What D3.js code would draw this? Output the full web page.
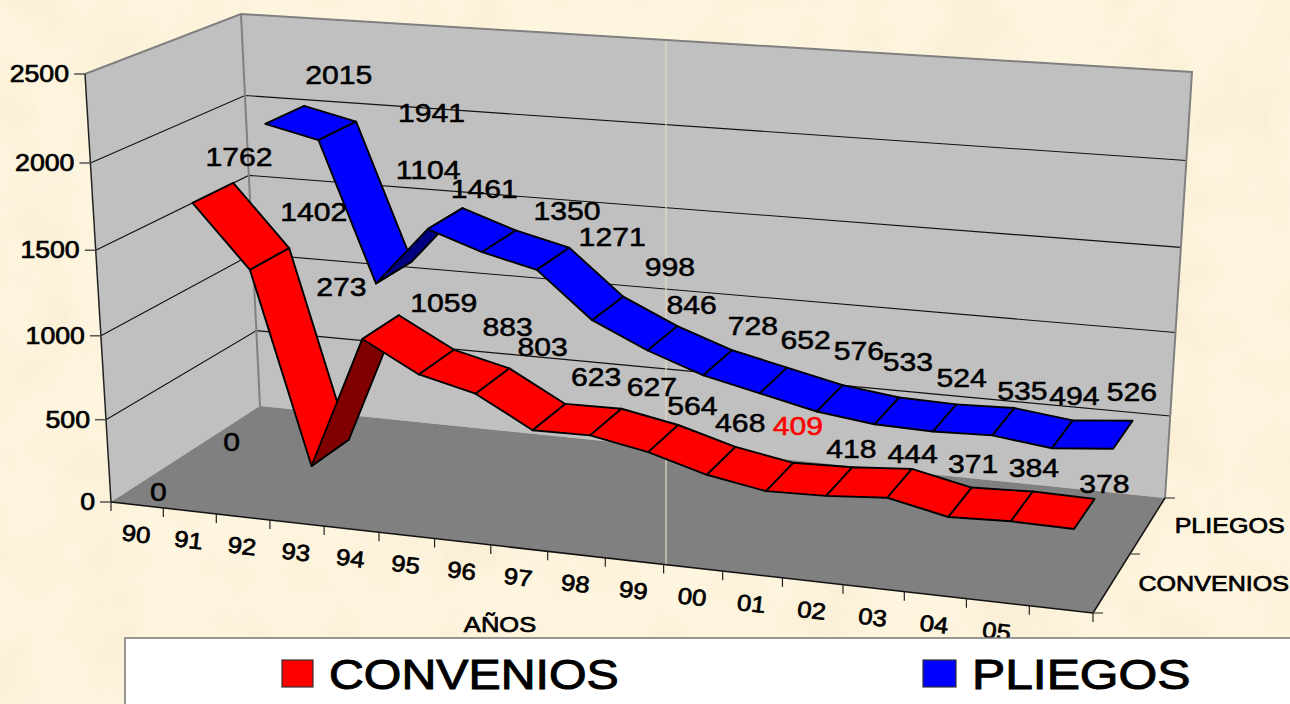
<!DOCTYPE html>
<html><head><meta charset="utf-8">
<script src="https://cdn.jsdelivr.net/npm/d3@7"></script>
<style>html,body{margin:0;padding:0;overflow:hidden;background:#fdf3dc}svg{display:block}text{font-family:"Liberation Sans",Arial,sans-serif;fill:#000}</style>
</head><body><svg id="c" width="1290" height="704"></svg>
<script>
const years=["90","91","92","93","94","95","96","97","98","99","00","01","02","03","04","05",""];
const seriesNames=["CONVENIOS","PLIEGOS"];
const convenios=[0,1762,1402,273,1059,883,803,623,627,564,468,409,418,444,371,384,378];
const pliegos=[0,2015,1941,1104,1461,1350,1271,998,846,728,652,576,533,524,535,494,526];
const valueTicks=[0,500,1000,1500,2000,2500];
const highlightedValue=409;
const colors={CONVENIOS:{top:"#ff0000",under:"#800000"},PLIEGOS:{top:"#0000ff",under:"#000080"}};
// hand placed data-label nudges from each ribbon point, as in the source chart
const convLabelDx=[-17,26,44,11,63,71,50,47,46,29,19,18,12,13,13,12,20];
const convLabelDy=[12,-36,-47,-166,-24,-35,-34,-40,-35,-33,-38,-51,-33,-29,-38,-38,-30];
const pliegLabelDx=[-17,54,94,34,39,68,59,62,29,35,32,29,21,17,19,12,9];
const pliegLabelDy=[10,-40,-18,-103,-30,-30,-22,-41,-33,-37,-40,-47,-49,-40,-31,-38,-43];

const svg=d3.select("#c");
const warp=k=>t=>t/(k+(1-k)*t);
const wx=warp(1.11),wy=warp(1.05),wz=warp(0.95);
const xS=d3.scaleLinear().domain([0,years.length]).range([0,1]);
const yS=d3.scaleLinear().domain([0,2500]).range([0,1]);
const zS=d3.scaleBand().domain(seriesNames).range([0,1]).paddingInner(.46).paddingOuter(.23);
// box frame corners
const K={A:[111,502],B:[1093,613],C:[260,406],D:[1165,498],E:[85,74],H:[1123,148],F:[241,14],G:[1192,72]};
const mix=(a,b,t)=>[a[0]+(b[0]-a[0])*t,a[1]+(b[1]-a[1])*t];
function P(xi,z,v){
  const x=wx(xS(xi)),zz=wz(z),y=wy(yS(v));
  return mix(mix(mix(K.A,K.B,x),mix(K.C,K.D,x),zz),mix(mix(K.E,K.H,x),mix(K.F,K.G,x),zz),y);
}
const n=years.length,line=d3.line();
const poly=(pts,fill,stroke,sw)=>svg.append("path").attr("d",line(pts)+"Z").attr("fill",fill).attr("stroke",stroke||"none").attr("stroke-width",sw||0).attr("stroke-linejoin","round");
const seg=(a,b,col,w)=>svg.append("line").attr("x1",a[0]).attr("y1",a[1]).attr("x2",b[0]).attr("y2",b[1]).attr("stroke",col).attr("stroke-width",w);
const H=1.16;
function label(p,s,size,opt={}){
  const t=`translate(${p[0]},${p[1]})`+(opt.rot?` rotate(${opt.rot})`:"")+` scale(${opt.h||H},1)`;
  return svg.append("text").attr("transform",t).attr("text-anchor",opt.anchor||"middle").attr("dy",".35em")
   .attr("font-size",size).style("fill",opt.fill||"#000").style("stroke",opt.fill||"#000").style("stroke-width",opt.sw==null?.55:opt.sw).text(s);
}
// background
const defs=svg.append("defs");
const f=defs.append("filter").attr("id","parch").attr("x",0).attr("y",0).attr("width","100%").attr("height","100%");
f.append("feTurbulence").attr("type","fractalNoise").attr("baseFrequency",".014").attr("numOctaves",4).attr("seed",7);
f.append("feColorMatrix").attr("values","0 0 0 0 .96  0 0 0 0 .86  0 0 0 0 .66  0 0 0 2.2 -0.85");
svg.append("rect").attr("width",1290).attr("height",704).attr("fill","#fef5df");
svg.append("rect").attr("width",1290).attr("height",704).attr("filter","url(#parch)");
// walls and floor
poly([P(0,0,0),P(0,1,0),P(0,1,2500),P(0,0,2500)],"#c0c0c0");
poly([P(0,1,0),P(n,1,0),P(n,1,2500),P(0,1,2500)],"#c0c0c0");
valueTicks.slice(1,-1).forEach(v=>{
  svg.append("path").attr("fill","none").attr("stroke","#111").attr("stroke-width",1.1).attr("d",line([P(0,0,v),P(0,1,v),P(n,1,v)]));
});
poly([P(0,0,0),P(0,1,0),P(n,1,0),P(n,0,0)],"#808080");
svg.append("path").attr("fill","none").attr("stroke","#808080").attr("stroke-width",2).attr("d",line([P(0,0,2500),P(0,1,2500),P(n,1,2500),P(n,1,0)]));
seg(P(0,1,0),P(0,1,2500),"#808080",2);
seg([666,41],[666,564],"#e2dac4",1.2);
// axes edges
seg(P(0,0,0),P(0,0,2500),"#222",1.5);
seg(P(0,0,0),P(n,0,0),"#111",1.5);
seg(P(n,0,0),P(n,1,0),"#111",1.5);
valueTicks.forEach(v=>{
  const p=P(0,0,v);seg([p[0]-11,p[1]],p,"#555",1.5);
  label([p[0]-16,p[1]],v,23,{anchor:"end",sw:.7});
});
d3.range(n+1).forEach(i=>{const p=P(i,0,0);seg(p,[p[0],p[1]+9],"#222",1.2);});
years.forEach((y,i)=>{ if(!y)return; const p=P(i+.5,0,0);label([p[0]-1,p[1]+29],y,23,{rot:6.5,h:1.12,sw:.7});});
[0,.5,1].forEach(z=>{const p=P(n,z,0);seg(p,[p[0]+10,p[1]],"#444",1.2);});
seriesNames.forEach((s,j)=>{const p=P(n,zS(s)+zS.bandwidth()/2,0);label([p[0]+(j?82:102),p[1]],s,22,{h:1.14,sw:.7});});
label([500,624],"AÑOS",22,{sw:.7});
// ribbons
const ribbons=[["PLIEGOS",pliegos],["CONVENIOS",convenios]];
ribbons.forEach(([name,vals])=>{
  const z0=zS(name),z1=z0+zS.bandwidth();
  vals.forEach((v,i)=>{
    if(i<1||i===vals.length-1)return;
    const w=vals[i+1];
    const pts=[P(i+.5,z0,v),P(i+.5,z1,v),P(i+1.5,z1,w),P(i+1.5,z0,w)];
    const under=d3.polygonArea(pts)>0;
    poly(pts,under?colors[name].under:colors[name].top,"#000",1.9);
  });
});
// data labels
[[pliegos,pliegLabelDx,pliegLabelDy,"PLIEGOS"],[convenios,convLabelDx,convLabelDy,"CONVENIOS"]].forEach(([vals,dx,dy,name])=>{
  const z=zS(name)+zS.bandwidth()/2;
  vals.forEach((v,i)=>{
    const p=P(i+.5,z,v);
    label([p[0]+dx[i],p[1]+dy[i]],v,26,{fill:(name==="CONVENIOS"&&v===highlightedValue)?"#ff0000":"#000"});
  });
});
// legend
svg.append("rect").attr("x",125).attr("y",638).attr("width",1170).attr("height",70).attr("fill","#fff").attr("stroke","#777").attr("stroke-width",1.5);
[[282,31,"CONVENIOS",329,"#ff0000",1.15],[923,33,"PLIEGOS",972,"#0000ff",1.185]].forEach(([x,w,s,tx,c,h])=>{
  svg.append("rect").attr("x",x).attr("y",660).attr("width",w).attr("height",27).attr("fill",c).attr("stroke","#333").attr("stroke-width",1.2);
  label([tx,674],s,42,{anchor:"start",h:h,sw:1});
});
</script></body></html>
